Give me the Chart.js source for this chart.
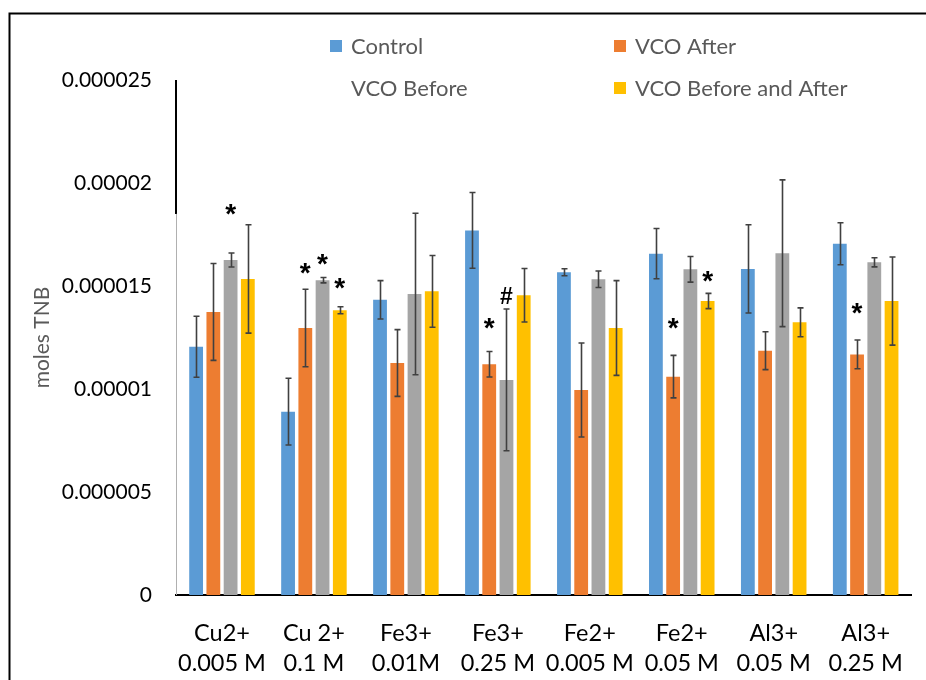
<!DOCTYPE html>
<html>
<head>
<meta charset="utf-8">
<script src="https://cdn.jsdelivr.net/npm/chart.js@4/dist/chart.umd.min.js"></script>
<style>
  html, body { margin: 0; padding: 0; background: #ffffff; }
  #wrap { position: relative; width: 926px; height: 680px; }
</style>
</head>
<body>
<div id="wrap"><canvas id="c" width="926" height="680"></canvas></div>
<script>
// ---------- data ----------
const categories = [
  ['Cu2+', '0.005 M'], ['Cu 2+', '0.1 M'], ['Fe3+', '0.01M'], ['Fe3+', '0.25 M'],
  ['Fe2+', '0.005 M'], ['Fe2+', '0.05 M'], ['Al3+', '0.05 M'], ['Al3+', '0.25 M']
];
const seriesNames = ['Control', 'VCO After', 'VCO Before', 'VCO Before and After'];

const control          = [12.05e-6, 8.90e-6, 14.33e-6, 17.70e-6, 15.67e-6, 16.57e-6, 15.83e-6, 17.05e-6];
const vcoAfter         = [13.74e-6, 12.96e-6, 11.26e-6, 11.20e-6, 9.95e-6, 10.60e-6, 11.86e-6, 11.68e-6];
const vcoBefore        = [16.26e-6, 15.28e-6, 14.61e-6, 10.44e-6, 15.33e-6, 15.81e-6, 16.59e-6, 16.15e-6];
const vcoBeforeAfter   = [15.34e-6, 13.82e-6, 14.74e-6, 14.55e-6, 12.96e-6, 14.27e-6, 13.24e-6, 14.27e-6];

const controlErr        = [1.48e-6, 1.62e-6, 0.93e-6, 1.84e-6, 0.17e-6, 1.22e-6, 2.14e-6, 1.02e-6];
const vcoAfterErr       = [2.35e-6, 1.88e-6, 1.62e-6, 0.62e-6, 2.28e-6, 1.03e-6, 0.92e-6, 0.70e-6];
const vcoBeforeErr      = [0.34e-6, 0.13e-6, 3.92e-6, 3.44e-6, 0.40e-6, 0.62e-6, 3.56e-6, 0.22e-6];
const vcoBeforeAfterErr = [2.63e-6, 0.17e-6, 1.74e-6, 1.30e-6, 2.30e-6, 0.37e-6, 0.70e-6, 2.14e-6];

const yTickValues = [0, 0.000005, 0.00001, 0.000015, 0.00002, 0.000025];
const yTickLabels = ['0', '0.000005', '0.00001', '0.000015', '0.00002', '0.000025'];

// significance marks: category index, series index, symbol, value level of the mark
const markCat    = [0, 1, 1, 1, 3, 3, 5, 5, 7];
const markSeries = [2, 1, 2, 3, 1, 2, 1, 3, 1];
const markSymbol = ['*', '*', '*', '*', '*', '#', '*', '*', '*'];
const markLevel  = [18.69e-6, 15.87e-6, 16.31e-6, 15.10e-6, 13.16e-6, 14.56e-6, 13.20e-6, 15.44e-6, 13.93e-6];

// ---------- styling ----------
const colors = ['#5B9BD5', '#ED7D31', '#A5A5A5', '#FFC000'];
const seriesValues = [control, vcoAfter, vcoBefore, vcoBeforeAfter];
const seriesErrors = [controlErr, vcoAfterErr, vcoBeforeErr, vcoBeforeAfterErr];
const FONT = 'Lato';

const framePlugin = {
  id: 'frame',
  afterDraw(chart) {
    const ctx = chart.ctx;
    ctx.save();
    ctx.strokeStyle = '#000';
    ctx.lineWidth = 2;
    ctx.beginPath();
    ctx.moveTo(9.5, 680);
    ctx.lineTo(9.5, 13.5);
    ctx.lineTo(926, 13.5);
    ctx.stroke();
    // y axis line: dark upper part, light lower part
    const ys = chart.scales.y;
    const x = chart.chartArea.left;
    const ySplit = ys.getPixelForValue(0.0000185);
    ctx.strokeStyle = '#000';
    ctx.lineWidth = 2;
    ctx.beginPath();
    ctx.moveTo(x, chart.chartArea.top);
    ctx.lineTo(x, ySplit);
    ctx.stroke();
    ctx.strokeStyle = '#b0b0b0';
    ctx.lineWidth = 1;
    ctx.beginPath();
    ctx.moveTo(x + 0.5, ySplit);
    ctx.lineTo(x + 0.5, chart.chartArea.bottom);
    ctx.stroke();
    ctx.restore();
  }
};

const errorBarPlugin = {
  id: 'errbars',
  afterDatasetsDraw(chart) {
    const ctx = chart.ctx;
    const ys = chart.scales.y;
    ctx.save();
    ctx.strokeStyle = '#404040';
    ctx.lineWidth = 1.6;
    chart.data.datasets.forEach((ds, di) => {
      const meta = chart.getDatasetMeta(di);
      meta.data.forEach((el, i) => {
        const v = ds.data[i], e = seriesErrors[di][i];
        const yt = ys.getPixelForValue(v + e);
        const yb = ys.getPixelForValue(v - e);
        const x = Math.round(el.x) + 0.5;
        ctx.beginPath();
        ctx.moveTo(x, yt); ctx.lineTo(x, yb);
        ctx.moveTo(x - 3, yt); ctx.lineTo(x + 3, yt);
        ctx.moveTo(x - 3, yb); ctx.lineTo(x + 3, yb);
        ctx.stroke();
      });
    });
    ctx.restore();
  }
};

const marksPlugin = {
  id: 'marks',
  afterDatasetsDraw(chart) {
    const ctx = chart.ctx;
    const ys = chart.scales.y;
    ctx.save();
    ctx.fillStyle = '#000';
    ctx.textAlign = 'center';
    ctx.textBaseline = 'alphabetic';
    markCat.forEach((c, k) => {
      const el = chart.getDatasetMeta(markSeries[k]).data[c];
      const sym = markSymbol[k];
      ctx.font = sym === '#' ? 'bold 23px "Liberation Sans"' : 'bold 28px "Liberation Sans"';
      const m = ctx.measureText(sym);
      const yc = ys.getPixelForValue(markLevel[k]);
      const y = yc + (m.actualBoundingBoxAscent - m.actualBoundingBoxDescent) / 2;
      ctx.fillText(sym, el.x, y);
    });
    ctx.restore();
  }
};

const legendPlugin = {
  id: 'customLegend',
  afterDraw(chart) {
    const ctx = chart.ctx;
    const pos = [[330, 46], [614, 46], [330, 88], [614, 88]];
    ctx.save();
    ctx.font = '22px ' + FONT;
    ctx.textBaseline = 'middle';
    ctx.textAlign = 'left';
    chart.data.datasets.forEach((ds, i) => {
      const [x, y] = pos[i];
      if (i !== 2) {
        ctx.fillStyle = ds.backgroundColor;
        ctx.fillRect(x, y - 6, 12, 12);
      }
      ctx.fillStyle = '#595959';
      ctx.fillText(ds.label, x + 21, y + 1);
    });
    ctx.restore();
  }
};

const datasets = seriesNames.map((name, i) => ({
  label: name,
  data: seriesValues[i],
  backgroundColor: colors[i],
  borderWidth: 0,
  categoryPercentage: 0.75,
  barPercentage: 0.8
}));

new Chart(document.getElementById('c'), {
  type: 'bar',
  data: { labels: categories, datasets },
  options: {
    responsive: false,
    animation: false,
    devicePixelRatio: 1,
    layout: { padding: { left: 0, right: 3, top: 80, bottom: 0 } },
    plugins: { legend: { display: false }, tooltip: { enabled: false } },
    scales: {
      x: {
        grid: { display: false, drawTicks: false },
        border: { display: true, color: '#000', width: 2 },
        ticks: {
          color: '#000',
          font: { family: FONT, size: 23.5, lineHeight: 1.28 },
          padding: 23,
          maxRotation: 0,
          autoSkip: false
        },
        afterFit(s) { s.height = 85; }
      },
      y: {
        min: 0,
        max: 0.000025,
        grid: { display: false, drawTicks: false },
        border: { display: false },
        afterBuildTicks(s) { s.ticks = yTickValues.map(v => ({ value: v })); },
        ticks: {
          color: '#000',
          font: { family: FONT, size: 21 },
          padding: 24,
          callback: (v, i) => yTickLabels[i]
        },
        title: {
          display: true,
          text: 'moles TNB',
          color: '#595959',
          font: { family: FONT, size: 21 },
          padding: { top: 30, bottom: 0 }
        },
        afterFit(s) { s.width = 176; }
      }
    }
  },
  plugins: [framePlugin, errorBarPlugin, marksPlugin, legendPlugin]
});
</script>
</body>
</html>
